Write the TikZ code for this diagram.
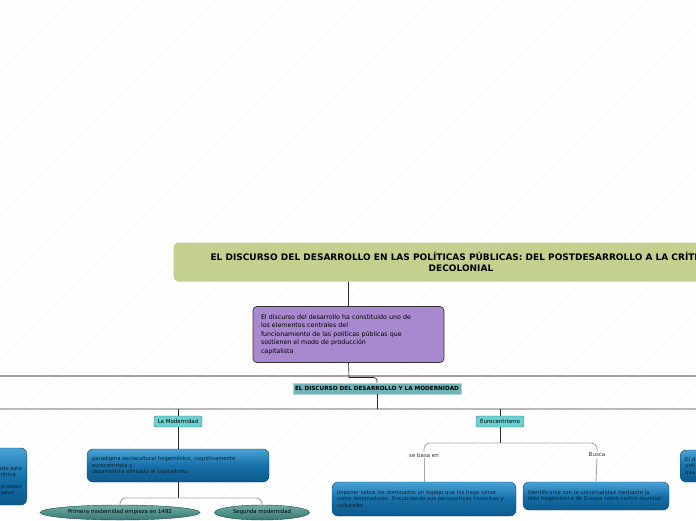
\documentclass[tikz,border=0pt]{standalone}
\usepackage{fontspec}
\setmainfont{DejaVu Sans}
\usetikzlibrary{positioning,shapes.geometric}

\definecolor{verdetit}{HTML}{C3D08E}
\definecolor{lila}{HTML}{A889CF}
\definecolor{tealgr}{HTML}{70B4B8}
\definecolor{tealch}{HTML}{6DCFCF}
\definecolor{azularr}{HTML}{4AA3D6}
\definecolor{azulmed}{HTML}{1670A8}
\definecolor{azulab}{HTML}{0B5A8C}
\definecolor{elip}{HTML}{3F8F87}
\definecolor{tinta}{HTML}{10202E}

\begin{document}
\begin{tikzpicture}[x=1pt,y=-1pt]
\tikzstyle{titulo} = [fill=verdetit,rounded corners=5pt,minimum width=575,minimum height=39,align=center,font=\fontsize{9}{11}\selectfont\bfseries];
\tikzstyle{morado} = [fill=lila,draw=black!80,line width=0.7,rounded corners=4pt,text width=175pt,inner sep=8pt,minimum height=53,align=left,font=\fontsize{6.3}{8.5}\selectfont];
\tikzstyle{tema} = [fill=tealgr,draw=tealgr!55!white,line width=0.8,minimum width=168,minimum height=11,inner sep=1pt,font=\fontsize{5.7}{7}\selectfont\bfseries];
\tikzstyle{sub} = [fill=tealch,draw=teal!70!gray,rounded corners=1.5pt,minimum width=48,minimum height=11,inner sep=1pt,font=\fontsize{5.5}{7}\selectfont];
\tikzstyle{azul} = [top color=azularr,bottom color=azulab,middle color=azulmed,draw=azulab!80!black,line width=0.4,rounded corners=6pt,align=left,text=tinta,inner xsep=5pt,font=\fontsize{5.3}{6.6}\selectfont];
\tikzstyle{elipse} = [ellipse,top color=elip!75!white,bottom color=elip!85!black,draw=elip!50!black,line width=0.4,inner sep=0pt,minimum height=15,font=\fontsize{5.4}{7}\selectfont];
\tikzstyle{rotulo} = [inner sep=1pt,text=black!80,font=\fontsize{5.5}{7}\selectfont];
\tikzstyle{frag} = [inner sep=0pt,text=tinta,font=\fontsize{5.3}{6.6}\selectfont];
\tikzstyle{bus} = [gray!75,line width=2];
\tikzstyle{rama} = [black!85,line width=0.6];
\tikzstyle{llave} = [gray!70,line width=0.9,rounded corners=6pt];

\useasboundingbox (0,0) rectangle (696,520);
\clip (0,0) rectangle (696,520);

% fondo rayado
\foreach \i in {-520,-511,...,696}{
	\draw[gray!7,line width=0.4] (\i,520) -- (\i+520,0);
}

\node[titulo] (titulo) at (461,262) {EL DISCURSO DEL DESARROLLO EN LAS POLÍTICAS PÚBLICAS: DEL POSTDESARROLLO A LA CRÍTICA\\DECOLONIAL};

\node[morado] (discurso) at (348.5,334.5) {El discurso del desarrollo ha constituido uno de\\los elementos centrales del\\funcionamiento de las políticas públicas que\\sostienen el modo de producción\\capitalista};

\node[tema] (modernidad) at (377,388.5) {EL DISCURSO DEL DESARROLLO Y LA MODERNIDAD};

\node[sub] (lamod) at (178,421.5) {La Modernidad};
\node[sub] (euro) at (500,421.5) {Eurocentrismo};

\node[azul,text width=172pt,minimum height=33] (paradigma) at (178,465.5) {paradigma sociocultural hegemónico, cognitivamente\\eurocentrista y\\desarrollista alineado al capitalismo.};

\node[elipse,minimum width=160] (primera) at (120,512.5) {Primera modernidad empieza en 1492};
\node[elipse,minimum width=95] (segunda) at (262,512.5) {Segunda modernidad};

\node[rotulo] (sebasa) at (424,455) {se basa en};
\node[rotulo] (busca) at (597,455) {Busca};

\node[azul,text width=174pt,minimum height=34] (imponer) at (424,499) {Imponer sobre los dominados un espejo que los haga verse\\como dominadores. Encubriendo sus perspectivas históricas y\\culturales};
\node[azul,text width=136pt,minimum height=28] (identif) at (596,496) {Identificarse con la universalidad mediante la\\idea hegemónica de Europa como centro mundial};

% cajas cortadas en los bordes
\node[azul,minimum width=150,minimum height=57,anchor=east] (izqcaja) at (27,476.5) {};
\node[frag,anchor=east] (fa) at (22,469) {ade esta};
\node[frag,anchor=east] (fb) at (16,475) {ntrica};
\node[frag,anchor=east] (fc) at (22,487.5) {proceso};
\node[frag,anchor=east] (fd) at (14,493.5) {uevo};
\node[azul,minimum width=120,minimum height=32,anchor=west,text width=110pt] (dercaja) at (680,466) {El d\\unil\\ava};

% conectores
\coordinate (izq1) at (0,376);
\coordinate (der1) at (696,376);
\coordinate (izq2) at (0,408.5);
\coordinate (der2) at (696,408.5);
\draw[bus] (izq1) -- (der1);
\draw[bus,gray!55] (izq2) -- (der2);

\draw[rama] (titulo.south -| discurso.north) -- (discurso.north);
\coordinate (b1) at (349,377.5);
\draw[rama] (discurso.south) -- (b1);
\draw[rama,rounded corners=3pt] (b1) -| (modernidad.north);
\draw[rama] (modernidad.south) -- (modernidad.south |- izq2);
\draw[rama] (lamod.north |- izq2) -- (lamod.north);
\draw[rama] (euro.north |- izq2) -- (euro.north);

\draw[rama] (lamod.south) -- (paradigma.north);
\coordinate (m1) at (178,498);
\draw[rama] (paradigma.south) -- (m1);
\draw[llave] (primera.north) |- (m1) -| (segunda.north);

\coordinate (e1) at (500,443);
\draw[rama] (euro.south) -- (e1);
\draw[llave] (sebasa.north) |- (e1) -| (busca.north);
\draw[llave] (sebasa.south) -- (imponer.north);
\draw[llave] (busca.south) -- (identif.north);

\end{tikzpicture}
\end{document}
